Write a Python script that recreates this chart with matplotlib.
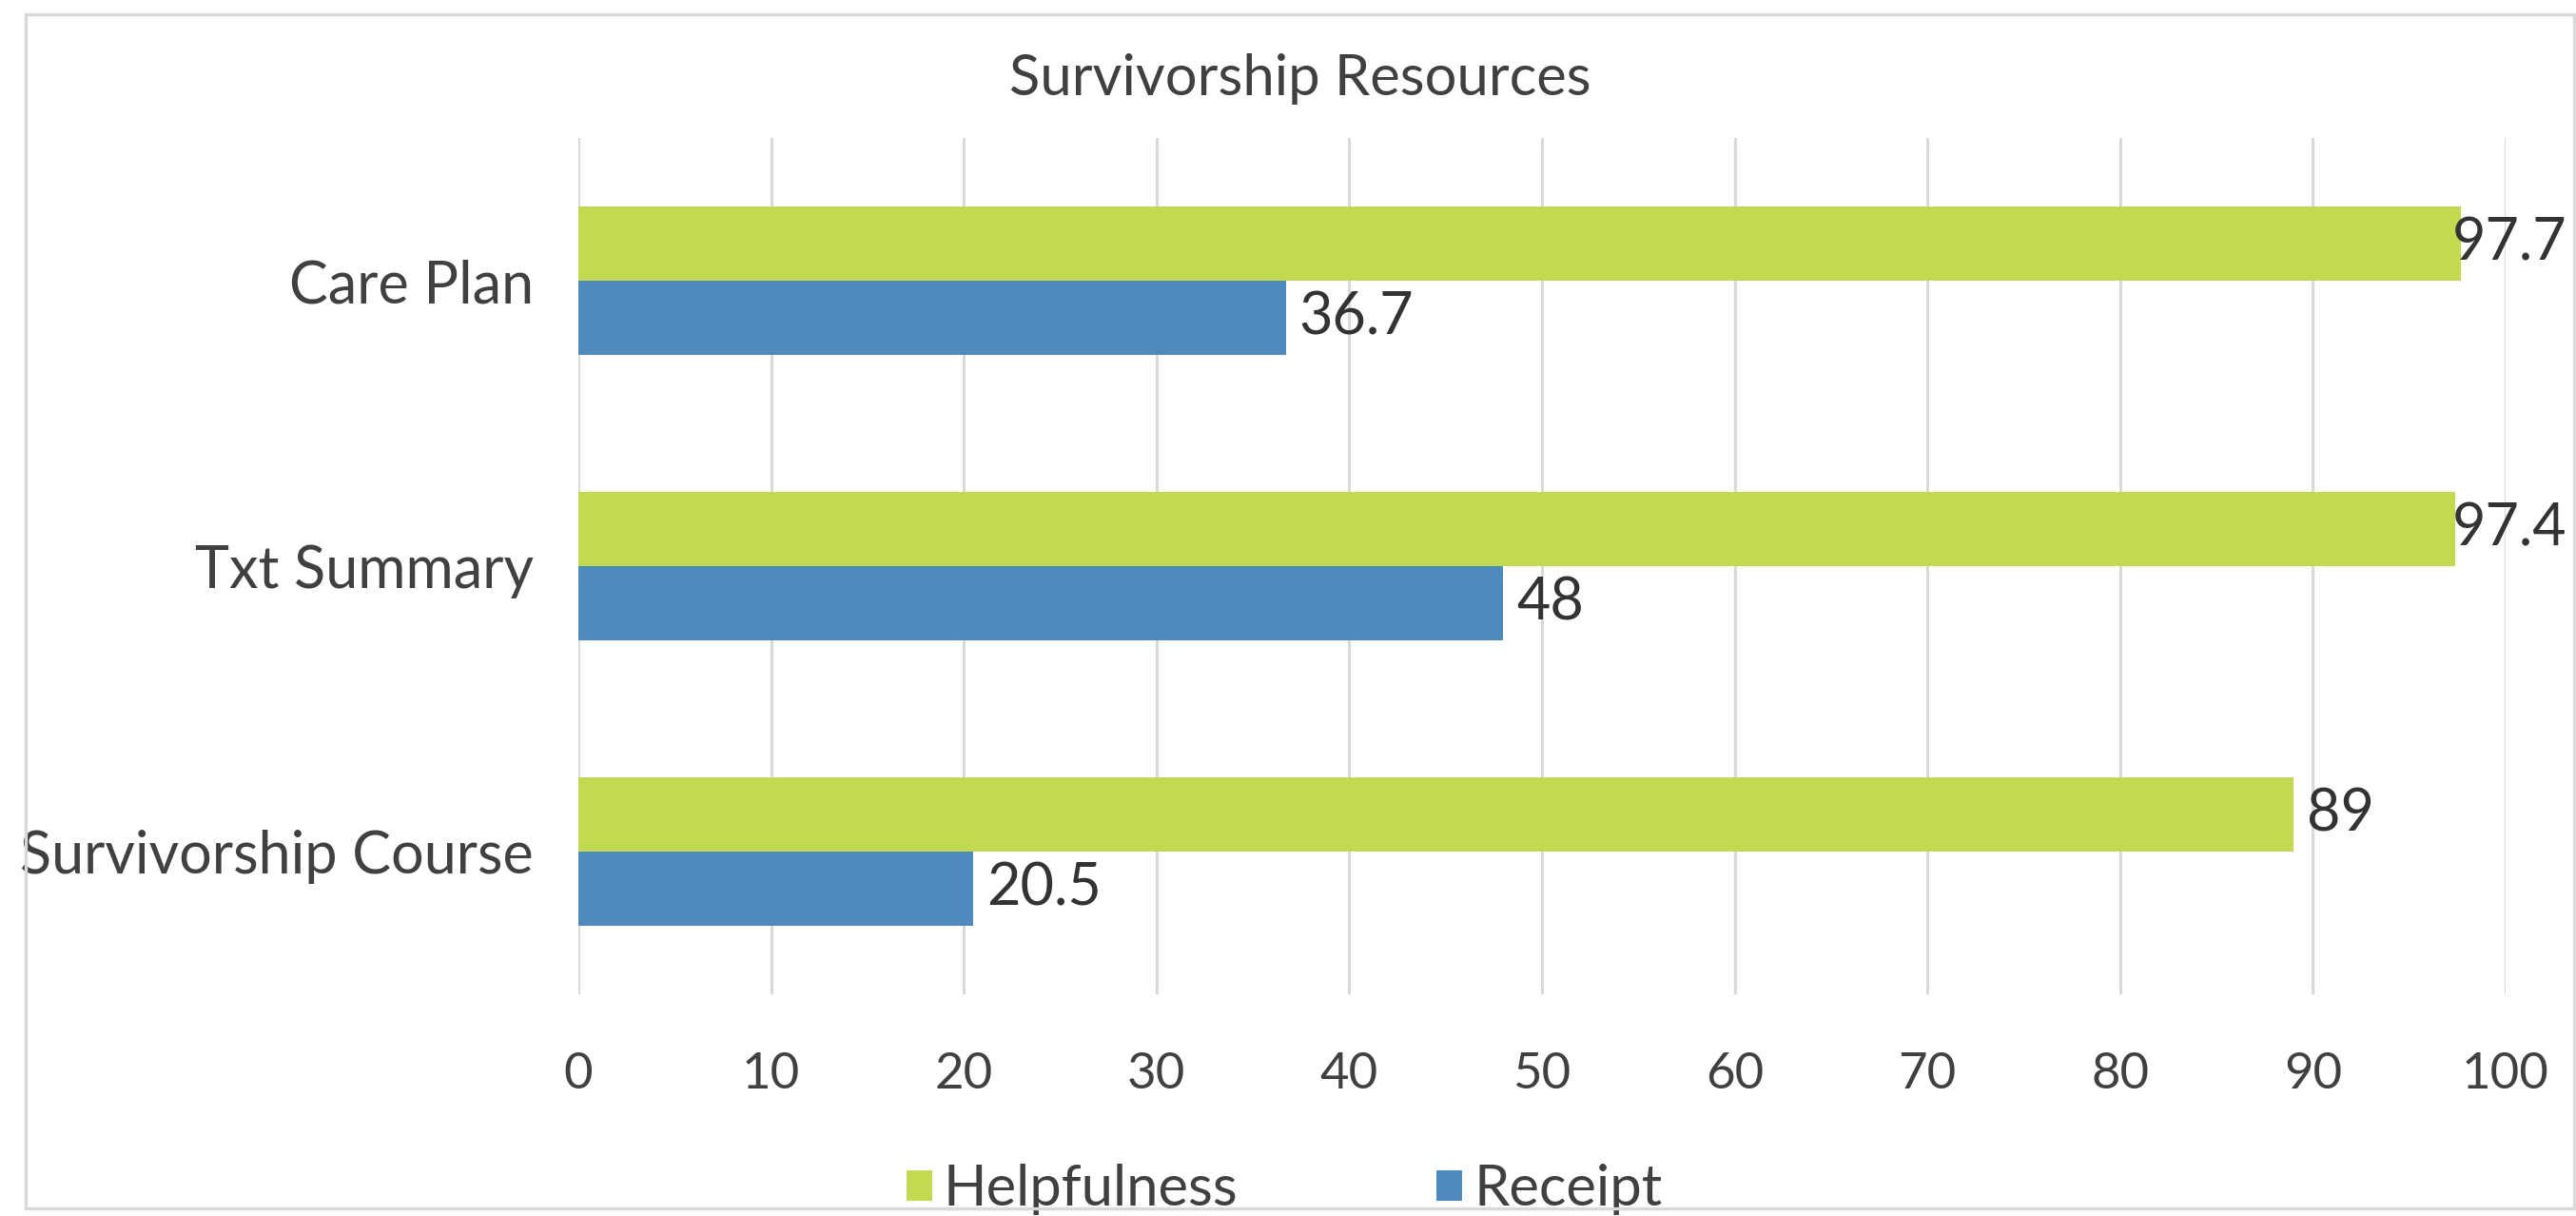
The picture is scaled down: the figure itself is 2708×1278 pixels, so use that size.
import numpy as np
import matplotlib
matplotlib.use("Agg")
import matplotlib.pyplot as plt
from matplotlib.patches import Rectangle, Patch

# data
categories = ["Care Plan", "Txt Summary", "Survivorship Course"]
helpfulness = [97.7, 97.4, 89]
receipt = [36.7, 48, 20.5]
series_names = ["Helpfulness", "Receipt"]
x_ticks = [0, 10, 20, 30, 40, 50, 60, 70, 80, 90, 100]
title = "Survivorship Resources"

GREEN = "#C1DA4F"
BLUE = "#4E8ABE"
GRID = "#D9D9D9"
TEXT = "#404040"

plt.rcParams["font.family"] = ["Lato", "DejaVu Sans"]

DPI = 200
W, H = 2708, 1278
fig = plt.figure(figsize=(W / DPI, H / DPI), dpi=DPI)
fig.patch.set_facecolor("white")

# axes placed to match the plot area of the reference
ax = fig.add_axes([608 / W, 1 - 1045 / H, (2634 - 608) / W, (1045 - 145) / H])

y = np.arange(len(categories))
h = 0.259
ax.barh(y - h / 2, helpfulness, height=h, color=GREEN, zorder=3)
ax.barh(y + h / 2, receipt, height=h, color=BLUE, zorder=3)

ax.set_xlim(0, 100)
ax.set_ylim(len(categories) - 0.5, -0.5)
ax.set_xticks(x_ticks)
ax.set_yticks(y)
ax.set_yticklabels(categories)
ax.tick_params(axis="x", length=0, pad=22, labelsize=19, labelcolor=TEXT)
ax.tick_params(axis="y", length=0, pad=17, labelsize=22, labelcolor=TEXT)
ax.grid(axis="x", color=GRID, linewidth=1.1, zorder=0)
for s in ax.spines.values():
    s.set_visible(False)

# data labels, pushed left when they would run past the chart border
labels = []
for vals, off in ((helpfulness, -h / 2), (receipt, h / 2)):
    for yi, v in zip(y, vals):
        t = ax.annotate(f"{v:g}", xy=(v, yi + off), xytext=(5, 0),
                        textcoords="offset points", ha="left", va="center",
                        fontsize=22, color="#333333", zorder=4)
        labels.append(t)

fig.canvas.draw()
r = fig.canvas.get_renderer()
limit = 2698
for t in labels:
    bb = t.get_window_extent(r)
    if bb.x1 > limit:
        dx = (bb.x1 - limit) * 72 / DPI
        t.xyann = (t.xyann[0] - dx, 0)

fig.text(1367 / W, 1 - 100 / H, title, ha="center", va="baseline",
         fontsize=21.5, color=TEXT)

handles = [Patch(facecolor=GREEN), Patch(facecolor=BLUE)]
fig.legend(handles, series_names, loc="center", bbox_to_anchor=(0.4985, 1 - 1250 / H),
           ncol=2, frameon=False, fontsize=21.5, labelcolor=TEXT,
           handlelength=0.45, handleheight=0.45, handletextpad=0.2,
           columnspacing=3.5, borderpad=0)

# light grey chart border
fig.patches.append(Rectangle((27 / W, 1 - 1270 / H), (2706 - 27) / W, (1270 - 15) / H,
                             transform=fig.transFigure, fill=False,
                             edgecolor=GRID, linewidth=1.2, zorder=10))

fig.savefig("out.png", dpi=DPI, facecolor="white")
